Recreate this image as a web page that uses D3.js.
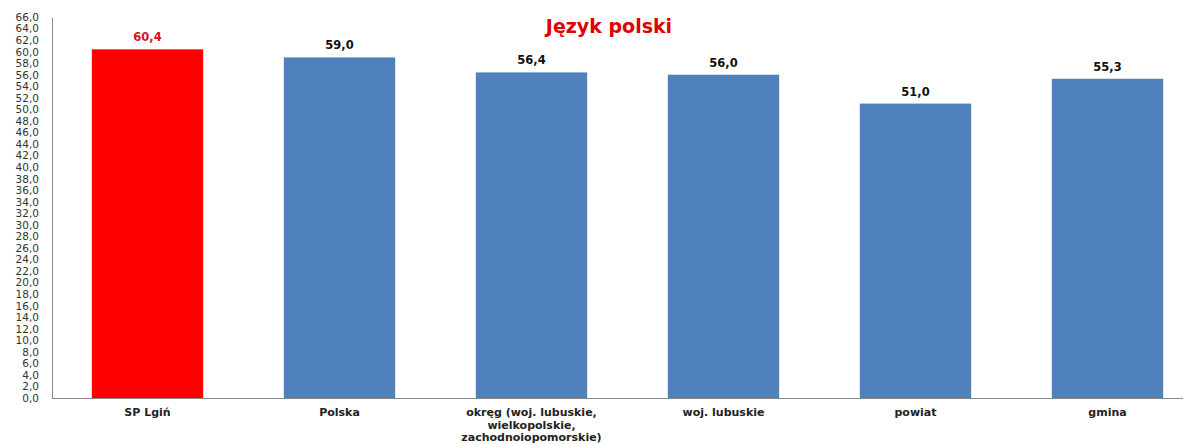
<!DOCTYPE html>
<html>
<head>
<meta charset="utf-8">
<script src="https://cdn.jsdelivr.net/npm/d3@7"></script>
<style>
  body { margin: 0; background: #fff; }
  svg { display: block; font-family: "DejaVu Sans", "Open Sans", sans-serif; }
</style>
</head>
<body>
<svg id="chart" width="1187" height="445"></svg>
<script>
// --- Data ---
const categories = ["SP Lgiń", "Polska", "okręg (woj. lubuskie, wielkopolskie, zachodnoiopomorskie)", "woj. lubuskie", "powiat", "gmina"];
const categoryLines = [["SP Lgiń"], ["Polska"], ["okręg (woj. lubuskie,", "wielkopolskie,", "zachodnoiopomorskie)"], ["woj. lubuskie"], ["powiat"], ["gmina"]];
const values = [60.4, 59.0, 56.4, 56.0, 51.0, 55.3];
const barColors = ["#ff0000", "#4f81bd", "#4f81bd", "#4f81bd", "#4f81bd", "#4f81bd"];
const labelColors = ["#d8102a", "#111", "#111", "#111", "#111", "#111"];
const yTicks = d3.range(0, 67, 2);

// --- Setup ---
const svg = d3.select("#chart");
const plotLeft = 52, plotRight = 1183, plotTop = 17, plotBottom = 398;

const x = d3.scaleBand()
    .domain(categories)
    .range([51.5, 51.5 + 6 * 192])
    .paddingInner(0.42)
    .paddingOuter(0.21);

const y = d3.scaleLinear().domain([0, 66]).range([plotBottom, plotTop]);

const fmt = v => v.toFixed(1).replace(".", ",");

// --- Y axis ---
const yAxis = svg.append("g")
    .attr("transform", `translate(${plotLeft},0)`)
    .call(d3.axisLeft(y).tickValues(yTicks).tickFormat(fmt).tickSize(0).tickPadding(13));
yAxis.select(".domain").attr("stroke", "#888").attr("stroke-width", 1);
yAxis.selectAll("text")
    .attr("fill", "#333")
    .style("font-size", "10.5px")
    .attr("font-family", "'DejaVu Sans', sans-serif");

// --- Bars ---
svg.append("g").selectAll("rect")
    .data(values)
    .join("rect")
    .attr("x", (d, i) => x(categories[i]))
    .attr("width", x.bandwidth())
    .attr("y", d => y(d))
    .attr("height", d => y(0) - y(d))
    .attr("fill", (d, i) => barColors[i]);

// --- X axis line ---
svg.append("line")
    .attr("x1", plotLeft).attr("x2", plotRight)
    .attr("y1", plotBottom + 0.5).attr("y2", plotBottom + 0.5)
    .attr("stroke", "#888");

// --- Value labels ---
svg.append("g").selectAll("text")
    .data(values)
    .join("text")
    .attr("x", (d, i) => x(categories[i]) + x.bandwidth() / 2)
    .attr("y", d => y(d) - 8)
    .attr("text-anchor", "middle")
    .attr("font-weight", "bold")
    .attr("font-size", "11.5px")
    .attr("fill", (d, i) => labelColors[i])
    .text(fmt);

// --- Category labels ---
const catG = svg.append("g").selectAll("text")
    .data(categoryLines)
    .join("text")
    .attr("x", (d, i) => x(categories[i]) + x.bandwidth() / 2)
    .attr("y", 416)
    .attr("text-anchor", "middle")
    .attr("font-weight", "bold")
    .attr("font-size", "11px")
    .attr("fill", "#222");
catG.selectAll("tspan")
    .data(d => d)
    .join("tspan")
    .attr("x", function() { return d3.select(this.parentNode).attr("x"); })
    .attr("dy", (d, i) => i === 0 ? 0 : 12.5)
    .text(d => d);

// --- Title ---
svg.append("text")
    .attr("x", 609)
    .attr("y", 33)
    .attr("text-anchor", "middle")
    .attr("font-weight", "bold")
    .attr("font-size", "19px")
    .attr("fill", "#e00000")
    .text("Język polski");
</script>
</body>
</html>
